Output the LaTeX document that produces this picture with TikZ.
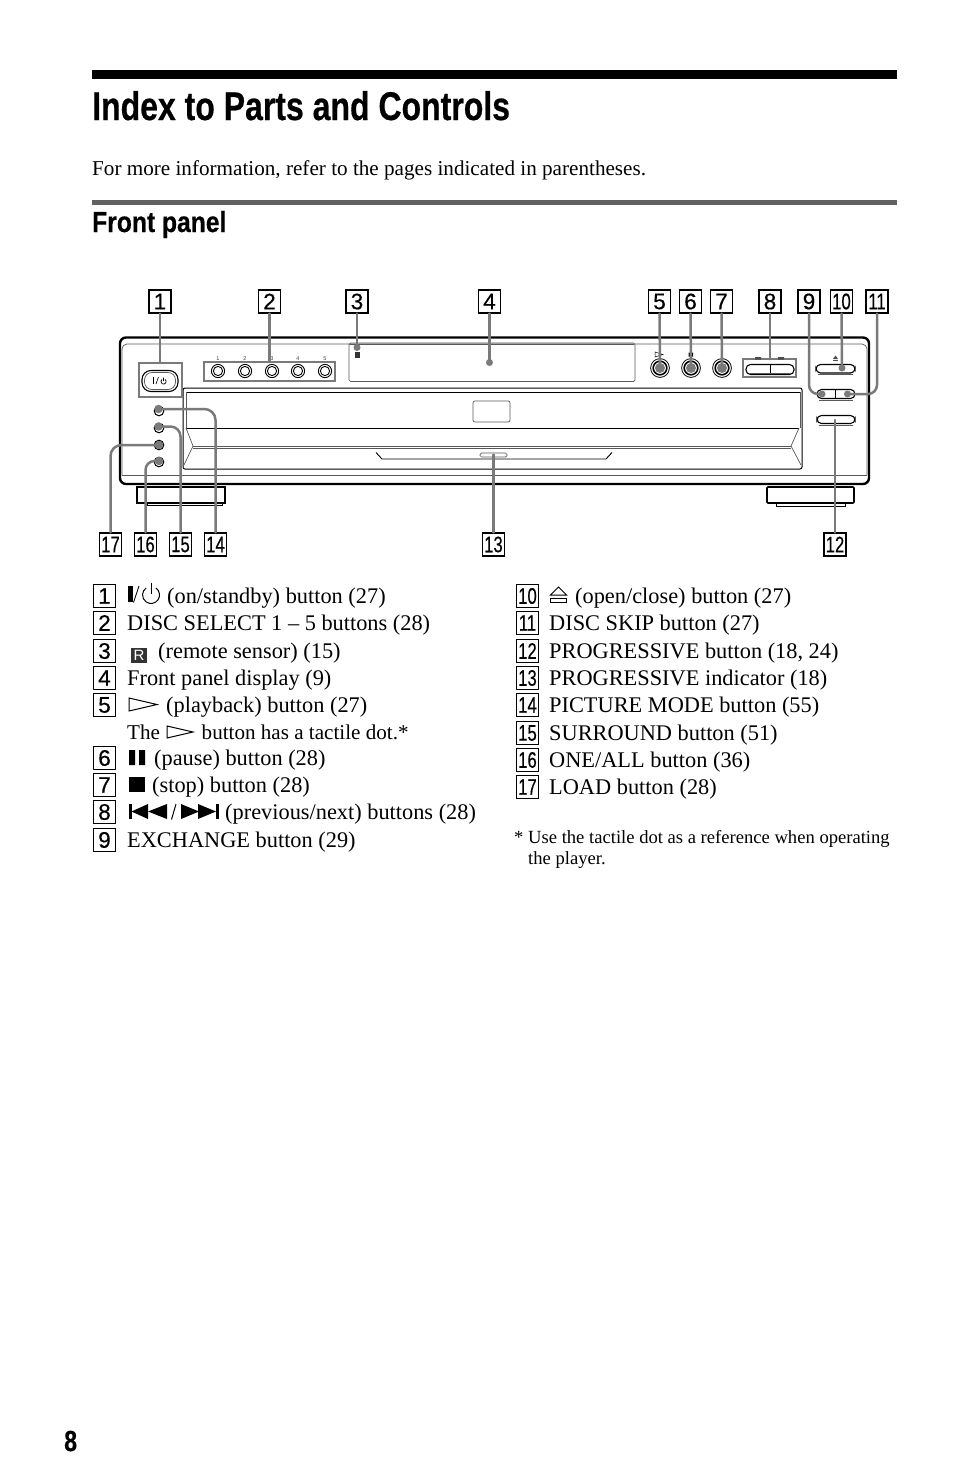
\documentclass[tikz,border=0pt]{standalone}
\usepackage{fontspec}
\usepackage{graphicx}
\setmainfont{Liberation Serif}
\newfontfamily\hdfont{Liberation Sans}
\newfontfamily\numfont[FakeBold=0.5]{Liberation Sans}
\usetikzlibrary{calc}
\newcommand{\tw}[1]{\scalebox{0.74}[1]{#1}}
\tikzset{
  x=1pt,y=-1pt,
  numbox/.style={draw=black,line width=1.1pt,minimum width=22pt,minimum height=23pt,inner sep=0pt,font=\numfont\fontsize{22.5}{22}\selectfont},
  body/.style={anchor=base west,inner sep=0pt,font=\fontsize{22.35}{24}\selectfont,text=black},
  small/.style={anchor=base west,inner sep=0pt,font=\fontsize{21.1}{24}\selectfont,text=black},
  foot/.style={anchor=base west,inner sep=0pt,font=\fontsize{18.6}{22}\selectfont,text=black},
  conn/.style={draw=black!52,line width=2.5pt,line cap=round},
  tipdot/.style={circle,fill=black!52,inner sep=0pt,minimum size=7pt},
  greybox/.style={draw=black!52,line width=2.8pt},
  dev/.style={draw=black,line width=0.9pt},
  thin/.style={draw=black!65,line width=0.7pt},
  pill/.style={draw=black,line width=1.1pt,rounded corners=4.5pt,fill=white},
}
\begin{document}
\begin{tikzpicture}
\useasboundingbox (0,0) rectangle (954,1483);
\fill[white] (0,0) rectangle (954,1483);
% headers
\fill[black] (92,70) rectangle (897,79);
\node[anchor=base west,inner sep=0pt,font=\numfont\bfseries\fontsize{40}{40}\selectfont] (title) at (92,120) {\scalebox{0.80}[1]{Index to Parts and Controls}};
\node[anchor=base west,inner sep=0pt,font=\fontsize{21.15}{24}\selectfont] (intro) at (92,175) {For more information, refer to the pages indicated in parentheses.};
\fill[black!62] (92,200) rectangle (897,205);
\node[anchor=base west,inner sep=0pt,font=\numfont\bfseries\fontsize{29}{29}\selectfont] (front) at (92,232) {\scalebox{0.85}[1]{Front panel}};
\node[anchor=base west,inner sep=0pt,font=\numfont\bfseries\fontsize{29}{29}\selectfont] (pageno) at (64,1451) {\scalebox{0.80}[1]{8}};

% feet
\draw[dev,line width=1.6pt] (137,487) rectangle (225,503);
\draw[dev] (147,503) -- (147,505.5) -- (222,505.5) -- (222,503);
\draw[dev,line width=1.6pt,rounded corners=1pt] (767,487) rectangle (854,503);
\draw[dev] (776,503) -- (776,506) -- (845,506) -- (845,503);
% body
\draw[black,line width=2.4pt,rounded corners=6pt,fill=white] (120,337.5) rectangle (869,484);
\draw[thin,rounded corners=5pt] (122,475) -- (122,344) -- (867,344) -- (867,475);
\draw[thin] (122,475) -- (867,475);
% display
\draw[thin,rounded corners=1.5pt] (349,343) rectangle (635,381.5);
\draw[thin] (350,344.5) -- (634,344.5);
% tray
\draw[dev,line width=1pt,rounded corners=2pt] (183,388) rectangle (802,469);
\draw[dev] (186,392) -- (800,392);
\draw[thin] (186,392) -- (186,428) (800,392) -- (800,428);
\draw[dev] (186,428) -- (799,428);
\draw[thin] (186,428) -- (193,446) -- (184,465);
\draw[thin] (799,428) -- (791,446) -- (801,465);
\draw[thin] (193,446) -- (791,446) (193,448.5) -- (791,448.5);
\draw[dev] (376,452.5) -- (382,459) -- (606,459) -- (612,452.5);
\draw[thin,rounded corners=2pt] (473,401) rectangle (510,422);
\draw[thin,rounded corners=1.5pt] (480,453) rectangle (507,457);

% power
\draw[greybox] (139,363) rectangle (182,397);
\draw[pill,rounded corners=9pt,line width=1.1pt] (142,370.5) rectangle (178,391.5);
\draw[thin,rounded corners=7.5pt] (144.5,372.5) rectangle (175.5,389.5);
\draw[black,line width=0.8pt] (153,377) -- (153,384);
\draw[black,line width=0.6pt] (156,384) -- (158.5,377);
\draw[black,line width=0.7pt] (163.5,377.5) -- (163.5,381) (165,379.4) arc[start angle=-55,end angle=235,radius=2.6];
% disc select
\draw[greybox] (204,362) rectangle (335,381);
\foreach \cx/\lab in {218/1,245/2,272/3,298/4,325/5}{
  \draw[black,line width=0.9pt] (\cx,371) circle[radius=6.6];
  \draw[black,line width=0.9pt] (\cx,371) circle[radius=4.6];
  \node[inner sep=0pt,font=\hdfont\fontsize{5.5}{6}\selectfont,text=black!75] at (\cx,359) {\lab};
}
% remote sensor
\fill[black!80] (354.5,352) rectangle (359.5,357.5);
% play/pause/stop
\foreach \cx in {660,691,722}{
  \draw[black,line width=0.8pt] (\cx,368) circle[radius=9.4];
  \draw[black,line width=1.6pt] (\cx,368) circle[radius=6.8];
}
\draw[black,line width=0.5pt] (655,352) -- (655,357) -- (663,354.5) -- cycle;
\fill[black] (688.5,352.5) rectangle (690.3,356.5) (691.3,352.5) rectangle (693.1,356.5);
\fill[black] (721.3,352.5) rectangle (723,356.5);
% prev next
\draw[greybox] (743,359) rectangle (796,377);
\draw[pill] (746,364.5) rectangle (794,374.5);
\draw[black,line width=0.7pt] (770,364.5) -- (770,374.5);
\draw[thin] (750,373) -- (790,373);
\fill[black!70] (755,357) rectangle (761,359.5) (778,357) rectangle (784,359.5);
% eject
\draw[pill] (816,364.5) rectangle (855,373);
\draw[thin] (818,374.5) -- (853,374.5);
\fill[black!70] (833,359) -- (835.5,355.5) -- (838,359) -- cycle;
\fill[black!70] (833,360) rectangle (838,361);
% exchange / skip
\draw[pill] (817,389.5) rectangle (855,398.5);
\draw[black,line width=0.7pt] (835.5,389.5) -- (835.5,398.5);
\draw[thin] (819,400) -- (853,400);
% progressive
\draw[pill] (817,415.5) rectangle (855,423.5);
\draw[thin] (819,425) -- (853,425);
% round buttons
\foreach \cy in {411,428,445,462}{ \draw[black,line width=1pt,fill=white] (159,\cy) circle[radius=4.8]; }

% number boxes top
\node[numbox] (n1) at (160,301.5) {1};
\node[numbox] (n2) at (269.5,301.5) {2};
\node[numbox] (n3) at (357,301.5) {3};
\node[numbox] (n4) at (489.5,301.5) {4};
\node[numbox] (n5) at (659.5,301.5) {5};
\node[numbox] (n6) at (690.5,301.5) {6};
\node[numbox] (n7) at (721.5,301.5) {7};
\node[numbox] (n8) at (770,301.5) {8};
\node[numbox] (n9) at (809,301.5) {9};
\node[numbox] (n10) at (841.5,301.5) {\tw{10}};
\node[numbox] (n11) at (877,301.5) {\tw{11}};
% number boxes bottom
\node[numbox] (n17) at (110.5,544.5) {\tw{17}};
\node[numbox] (n16) at (145.5,544.5) {\tw{16}};
\node[numbox] (n15) at (180.5,544.5) {\tw{15}};
\node[numbox] (n14) at (215.5,544.5) {\tw{14}};
\node[numbox] (n13) at (493.5,544.5) {\tw{13}};
\node[numbox] (n12) at (835,544.5) {\tw{12}};

% connector targets
\node[tipdot,minimum size=0pt,inner sep=0pt] (t1) at (160,363) {};
\node[tipdot,minimum size=0pt] (t2) at (269.5,362) {};
\node[tipdot] (t3) at (357,347.5) {};
\node[tipdot] (t4) at (489.5,362.5) {};
\node[tipdot,minimum size=10pt] (t5) at (660,368) {};
\node[tipdot,minimum size=10pt] (t6) at (691,368) {};
\node[tipdot,minimum size=10pt] (t7) at (722,368) {};
\node[tipdot,minimum size=0pt] (t8) at (770,359) {};
\node[tipdot] (t9) at (822,394) {};
\node[tipdot] (t10) at (842,368) {};
\node[tipdot] (t11) at (847.5,394) {};
\node[tipdot,minimum size=0pt] (t12) at (835,420) {};
\node[tipdot,minimum size=3pt] (t13) at (493.5,455) {};
\node[tipdot,minimum size=8.5pt] (t14) at (158.5,409) {};
\node[tipdot,minimum size=8.5pt] (t15) at (158.5,426.5) {};
\node[tipdot,minimum size=8.5pt] (t16) at (159,461) {};
\node[tipdot,minimum size=8.5pt] (t17) at (159,445) {};

\foreach \k in {1,...,8}{\draw[conn] (n\k.south) -- (t\k.center);}
\draw[conn] (n10.south) -- (t10.center);
\draw[conn,rounded corners=9pt] (n9.south) |- (t9.center);
\draw[conn,rounded corners=9pt] (n11.south) |- (t11.center);
\draw[conn] (n12.north) -- (t12.center);
\draw[conn] (n13.north) -- (t13.center);
\draw[conn,rounded corners=11pt] (n14.north) |- (t14.center);
\draw[conn,rounded corners=10pt] (n15.north) |- (t15.center);
\draw[conn,rounded corners=9pt] (n16.north) |- (t16.center);
\draw[conn,rounded corners=11pt] (n17.north) |- (t17.center);

% list left
\foreach \k/\yy in {1/596,2/623,3/651,4/678,5/705,6/758,7/785,8/812,9/840}{
  \node[numbox] (l\k) at (104.5,\yy) {\k};
}
\node[body] (a1) at (167,603) {(on/standby) button (27)};
\node[body] (a2) at (127,630) {DISC SELECT 1 – 5 buttons (28)};
\node[body] (a3) at (158,658) {(remote sensor) (15)};
\node[body] (a4) at (127,685) {Front panel display (9)};
\node[body] (a5) at (166,712) {(playback) button (27)};
\node[small] (a5b) at (127,739) {The};
\node[small] (a5c) at (201.5,739) {button has a tactile dot.*};
\node[body] (a6) at (154,765) {(pause) button (28)};
\node[body] (a7) at (152,792) {(stop) button (28)};
\node[body] (a8) at (225,819) {(previous/next) buttons (28)};
\node[body] (a9) at (127,847) {EXCHANGE button (29)};
% list right
\foreach \k/\yy in {10/596,11/623,12/651,13/678,14/705,15/733,16/760,17/787}{
  \node[numbox] (r\k) at (527.5,\yy) {\tw{\k}};
}
\node[body] (b10) at (575,603) {(open/close) button (27)};
\node[body] (b11) at (549,630) {DISC SKIP button (27)};
\node[body] (b12) at (549,658) {PROGRESSIVE button (18, 24)};
\node[body] (b13) at (549,685) {PROGRESSIVE indicator (18)};
\node[body] (b14) at (549,712) {PICTURE MODE button (55)};
\node[body] (b15) at (549,740) {SURROUND button (51)};
\node[body] (b16) at (549,767) {ONE/ALL button (36)};
\node[body] (b17) at (549,794) {LOAD button (28)};
\node[foot] (f0) at (514,843) {*};
\node[foot] (f1) at (528,843) {Use the tactile dot as a reference when operating};
\node[foot] (f2) at (528,864) {the player.};

% inline symbols
\fill[black] (128,586) rectangle (132.5,602);
\draw[black,line width=0.9pt] (133.5,602.5) -- (139,586);
\draw[black,line width=1pt] (151,583) -- (151,594);
\draw[black,line width=1pt] (155.9,588) arc[start angle=-55,end angle=235,radius=8.5];
% R
\fill[black!80] (131,648) rectangle (147,663);
\node[inner sep=0pt,text=white,font=\hdfont\fontsize{15}{15}\selectfont] (ricon) at (139,655.5) {R};
% play triangles
\draw[black,line width=1pt] (129,698) -- (129,711) -- (157,704.5) -- cycle;
\draw[black,line width=1pt] (167,726) -- (167,738) -- (193,732) -- cycle;
% pause
\fill[black] (129,750) rectangle (135,765) (139,750) rectangle (145,765);
% stop
\fill[black] (129,777) rectangle (145,792);
% prev next
\fill[black] (129,804) rectangle (131.5,819);
\fill[black] (131.5,811.5) -- (148,804) -- (148,819) -- cycle;
\fill[black] (148,811.5) -- (167,804) -- (167,819) -- cycle;
\draw[black,line width=1pt] (171.5,819.5) -- (176,804);
\fill[black] (181,804) -- (199,811.5) -- (181,819) -- cycle;
\fill[black] (198,804) -- (216,811.5) -- (198,819) -- cycle;
\fill[black] (216,804) rectangle (218.5,819);
% eject
\draw[black,line width=1pt] (550.5,595) -- (558.5,587) -- (566.5,595) -- cycle;
\draw[black,line width=1pt] (550.5,598.5) rectangle (566.5,602);
\end{tikzpicture}
\end{document}
